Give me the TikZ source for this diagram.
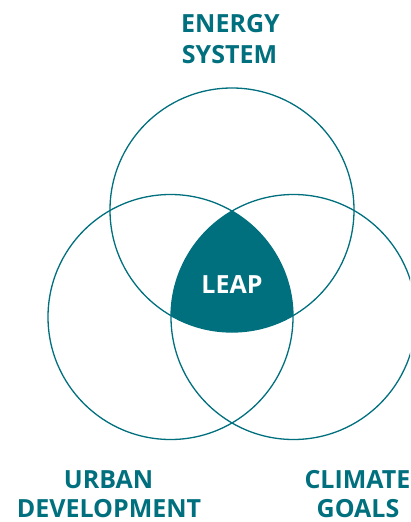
\documentclass[tikz,border=0pt]{standalone}
\usepackage{fontspec}
\setmainfont{Open Sans}
\definecolor{teal}{HTML}{006F7E}
\begin{document}
\begin{tikzpicture}[x=1pt,y=-1pt,
  ring/.style={draw=teal,line width=1.3pt},
  lbl/.style={text=teal,font=\fontsize{25}{29}\selectfont\bfseries,anchor=base,inner sep=0pt},
  core/.style={text=white,font=\fontsize{25}{29}\selectfont\bfseries,anchor=base,inner sep=0pt}]
\clip (0,0) rectangle (410,522);
\fill[white] (0,0) rectangle (410,522);
\coordinate (ct) at (232,210);
\coordinate (cl) at (170.5,317);
\coordinate (cr) at (293.5,317);
\begin{scope}
  \clip (ct) circle[radius=122];
  \clip (cl) circle[radius=122.5];
  \fill[teal] (cr) circle[radius=122.5];
\end{scope}
\draw[ring] (ct) circle[radius=122];
\draw[ring] (cl) circle[radius=122.5];
\draw[ring] (cr) circle[radius=122.5];
\node[lbl] (e1) at (230.5,32) {ENERGY};
\node[lbl] (e2) at (229.5,63) {SYSTEM};
\node[lbl] (u1) at (108.5,488) {URBAN};
\node[lbl] (u2) at (109,517) {DEVELOPMENT};
\node[lbl,anchor=base west] (c1) at (304.3,488) {CLIMATE};
\node[lbl] (c2) at (358,517) {GOALS};
\node[core] (leap) at (232,293) {LEAP};
\end{tikzpicture}
\end{document}
